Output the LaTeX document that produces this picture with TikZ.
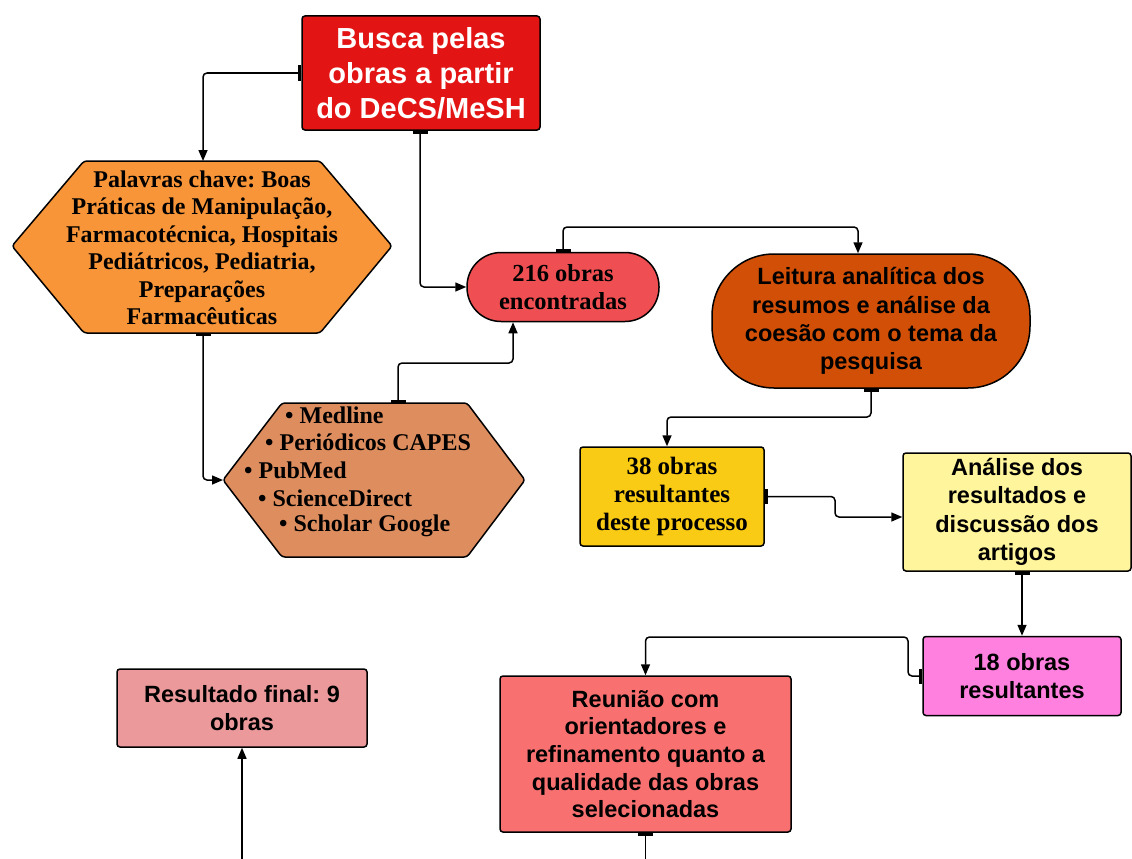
\documentclass[tikz,border=0pt]{standalone}
\usepackage{fontspec}
\setmainfont{Liberation Serif}
\setsansfont{Liberation Sans}
\usetikzlibrary{arrows.meta,calc}
\frenchspacing
\definecolor{cBusca}{HTML}{E31414}
\definecolor{cPal}{HTML}{F89538}
\definecolor{cDuz}{HTML}{EF4F52}
\definecolor{cLeit}{HTML}{D14F06}
\definecolor{cBases}{HTML}{DE8D5E}
\definecolor{cTrinta}{HTML}{F9CB14}
\definecolor{cAnal}{HTML}{FFF59C}
\definecolor{cDezoito}{HTML}{FF80DE}
\definecolor{cReun}{HTML}{F87070}
\definecolor{cRes}{HTML}{EB999A}
\tikzset{
  box/.style={draw=black, line width=1.5pt, rounded corners=3pt, align=center, inner sep=0pt},
  hexshape/.style={draw=black, line width=1.5pt, rounded corners=3pt},
  sanstxt/.style={font=\sffamily\bfseries\fontsize{23.5}{28.3}\selectfont, align=center},
  seriftxt/.style={font=\rmfamily\bfseries\fontsize{24}{27.5}\selectfont, align=center},
  listtxt/.style={font=\rmfamily\bfseries\fontsize{24}{27.5}\selectfont, anchor=west, inner sep=0pt},
  conn/.style={line width=1.5pt, rounded corners=4pt, {Bar[width=15pt,line width=3pt]}-{Triangle[length=11pt,width=9pt]}},
  tailonly/.style={line width=1.5pt, {Bar[width=15pt,line width=3pt]}-},
  headonly/.style={line width=1.5pt, -{Triangle[length=11pt,width=9pt]}}
}
\begin{document}
\begin{tikzpicture}[x=1pt,y=-1pt]
\useasboundingbox (0,0) rectangle (1132,859);
% Busca
\node[box, fill=cBusca, minimum width=238pt, minimum height=114pt,
      font=\sffamily\bfseries\fontsize{29}{35}\selectfont, text=white] (busca) at (421,73)
      {Busca pelas\\obras a partir\\do DeCS/MeSH};
% Palavras hexagon
\draw[hexshape, fill=cPal] (12,246) -- (84,161) -- (320,161) -- (392,246) -- (320,333) -- (84,333) -- cycle;
\coordinate (palTop) at (203,161);
\coordinate (palBot) at (203,333);
\node[seriftxt] (pal) at (202,248)
  {Palavras chave: Boas\\Práticas de Manipulação,\\Farmacotécnica, Hospitais\\Pediátricos, Pediatria,\\Preparações\\Farmacêuticas};
% 216
\node[box, fill=cDuz, rounded corners=34pt, minimum width=192pt, minimum height=69pt,
      font=\rmfamily\bfseries\fontsize{24.5}{28}\selectfont] (duz) at (563,287)
      {216 obras\\encontradas};
% Leitura
\node[box, fill=cLeit, rounded corners=62pt, minimum width=318pt, minimum height=134pt, sanstxt] (leit) at (871,321)
      {Leitura analítica dos\\resumos e análise da\\coesão com o tema da\\pesquisa};
% Bases hexagon
\draw[hexshape, fill=cBases] (223,480) -- (282,403) -- (467,403) -- (525,480) -- (467,557) -- (282,557) -- cycle;
\coordinate (basL) at (223,480);
\coordinate (basTop) at (398,403);
\node[listtxt] (b1) at (285,415) {• Medline};
\node[listtxt] (b2) at (265,442) {• Periódicos CAPES};
\node[listtxt] (b3) at (244,470) {• PubMed};
\node[listtxt] (b4) at (258,498) {• ScienceDirect};
\node[listtxt] (b5) at (279,526) {• Scholar Google};
% 38
\node[box, fill=cTrinta, minimum width=184pt, minimum height=99pt, seriftxt, font=\rmfamily\bfseries\fontsize{25}{28}\selectfont] (trinta) at (672,496.5)
      {38 obras\\resultantes\\deste processo};
% Analise
\node[box, fill=cAnal, minimum width=228pt, minimum height=118pt, sanstxt] (anal) at (1017,512)
      {Análise dos\\resultados e\\discussão dos\\artigos};
% 18
\node[box, fill=cDezoito, minimum width=198pt, minimum height=79pt, sanstxt] (dez) at (1022,676)
      {18 obras\\resultantes};
% Reuniao
\node[box, fill=cReun, minimum width=291pt, minimum height=156pt, sanstxt, font=\sffamily\bfseries\fontsize{23.5}{27.7}\selectfont] (reun) at (645.5,754)
      {Reunião com\\orientadores e\\refinamento quanto a\\qualidade das obras\\selecionadas};
% Resultado
\node[box, fill=cRes, minimum width=250pt, minimum height=78pt, sanstxt] (res) at (242,708)
      {Resultado final: 9\\obras};
\coordinate (reunOut) at (645.5,859);
\coordinate (resIn) at (242,859);
% connectors
\draw[conn] (busca.west) -| (palTop);
\draw[conn] ($(busca.south)+(-1,0)$) |- (duz.west);
\draw[conn] (duz.north) -- (563,227) -| ($(leit.north)+(-13,0)$);
\draw[conn] (palBot) |- (basL);
\draw[conn] (basTop) -- (398,363) -| ($(duz.south)+(-50,0)$);
\draw[conn] (leit.south) -- (871,417) -| ($(trinta.north)+(-5,0)$);
\draw[conn] (trinta.east) -- (835,496.5) -- (835,517) -- ($(anal.west)+(0,5)$);
\draw[conn] (dez.north |- anal.south) -- (dez.north);
\draw[conn] (dez.west) -- (908,676) -- (908,637) -| (reun.north);
\draw[tailonly] (reun.south) -- (reunOut);
\draw[headonly] (resIn) -- (res.south);
\end{tikzpicture}
\end{document}
